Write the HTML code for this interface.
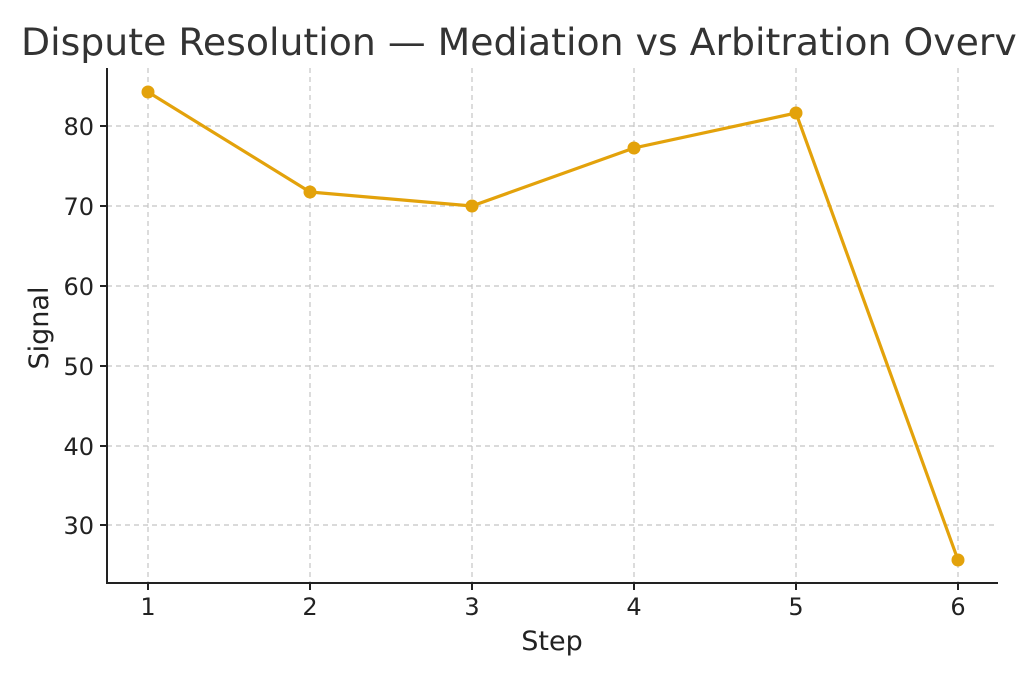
<!DOCTYPE html>
<html><head><meta charset="utf-8"><style>
html,body{margin:0;padding:0;background:#fff;overflow:hidden}
svg{display:block;font-family:"DejaVu Sans","Liberation Sans",sans-serif}
</style></head><body>
<svg width="1024" height="683" viewBox="0 0 1024 683" xmlns="http://www.w3.org/2000/svg">
<defs><clipPath id="c"><rect x="0" y="0" width="1020" height="80"/></clipPath></defs>
<rect width="1024" height="683" fill="#fff"/>
<text x="21" y="55" font-size="37.8" fill="#333" clip-path="url(#c)">Dispute Resolution — Mediation vs Arbitration Overv</text>
<g stroke="#c4c4c4" stroke-width="1.2" stroke-dasharray="5,4">
<line x1="107" x2="998" y1="126" y2="126"/>
<line x1="107" x2="998" y1="206" y2="206"/>
<line x1="107" x2="998" y1="286" y2="286"/>
<line x1="107" x2="998" y1="366" y2="366"/>
<line x1="107" x2="998" y1="446" y2="446"/>
<line x1="107" x2="998" y1="525" y2="525"/>
<line x1="148" x2="148" y1="68" y2="583"/>
<line x1="310" x2="310" y1="68" y2="583"/>
<line x1="472" x2="472" y1="68" y2="583"/>
<line x1="634" x2="634" y1="68" y2="583"/>
<line x1="796" x2="796" y1="68" y2="583"/>
<line x1="958" x2="958" y1="68" y2="583"/>
</g>
<g stroke="#222" stroke-width="2">
<line x1="107" y1="68" x2="107" y2="584"/>
<line x1="106" y1="583" x2="998" y2="583"/>
<line x1="100" x2="107" y1="126" y2="126"/>
<line x1="100" x2="107" y1="206" y2="206"/>
<line x1="100" x2="107" y1="286" y2="286"/>
<line x1="100" x2="107" y1="366" y2="366"/>
<line x1="100" x2="107" y1="446" y2="446"/>
<line x1="100" x2="107" y1="525" y2="525"/>
<line x1="148" x2="148" y1="583" y2="590"/>
<line x1="310" x2="310" y1="583" y2="590"/>
<line x1="472" x2="472" y1="583" y2="590"/>
<line x1="634" x2="634" y1="583" y2="590"/>
<line x1="796" x2="796" y1="583" y2="590"/>
<line x1="958" x2="958" y1="583" y2="590"/>
</g>
<g font-size="24" fill="#222" text-anchor="end">
<text x="94" y="135">80</text>
<text x="94" y="215">70</text>
<text x="94" y="295">60</text>
<text x="94" y="375">50</text>
<text x="94" y="455">40</text>
<text x="94" y="534">30</text>
</g>
<g font-size="24" fill="#222" text-anchor="middle">
<text x="148" y="615">1</text>
<text x="310" y="615">2</text>
<text x="472" y="615">3</text>
<text x="634" y="615">4</text>
<text x="796" y="615">5</text>
<text x="958" y="615">6</text>
</g>
<g font-size="27" fill="#222" text-anchor="middle">
<text x="552" y="650">Step</text>
<text transform="translate(48,328) rotate(-90)">Signal</text>
</g>
<polyline fill="none" stroke="#E3A20B" stroke-width="3.2" stroke-linejoin="round" points="148,92 310,192 472,206 634,148 796,113 958,560"/>
<g fill="#E3A20B">
<circle cx="148" cy="92" r="6.5"/><circle cx="310" cy="192" r="6.5"/><circle cx="472" cy="206" r="6.5"/>
<circle cx="634" cy="148" r="6.5"/><circle cx="796" cy="113" r="6.5"/><circle cx="958" cy="560" r="6.5"/>
</g>
</svg>
</body></html>
